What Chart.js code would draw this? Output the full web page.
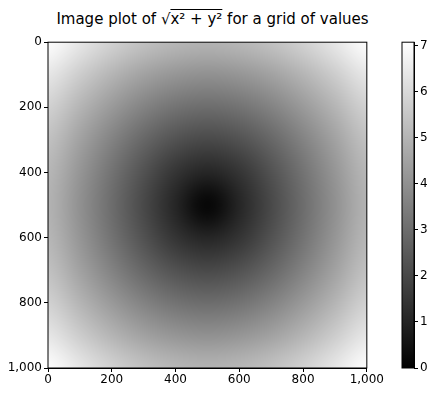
<!DOCTYPE html>
<html>
<head>
<meta charset="utf-8">
<script src="https://cdn.jsdelivr.net/npm/chart.js@4"></script>
<style>
body { margin: 0; background: #fff; width: 442px; height: 401px; overflow: hidden; position: relative; font-family: "DejaVu Sans", sans-serif; }
#title { position: absolute; left: 0; top: 10px; width: 425px; text-align: center; font-size: 15px; color: #000; }
#main { position: absolute; left: 0; top: 33px; }
#bar { position: absolute; left: 395px; top: 33px; }
</style>
</head>
<body>
<div id="title">Image plot of √<span style="text-decoration: overline">x² + y²</span> for a grid of values</div>
<canvas id="main" width="385" height="360"></canvas>
<canvas id="bar" width="47" height="360"></canvas>
<script>
// sample positions (pixel index) of the grid rows/cols
const samplePos = [0, 100, 200, 300, 400, 500, 600, 700, 800, 900, 1000];
// values read at those positions, row by row (top row first)
const gridValues = [
	[7.07, 6.40, 5.83, 5.39, 5.10, 5.00, 5.10, 5.39, 5.83, 6.40, 7.07],
	[6.40, 5.66, 5.00, 4.47, 4.12, 4.00, 4.12, 4.47, 5.00, 5.66, 6.40],
	[5.83, 5.00, 4.24, 3.61, 3.16, 3.00, 3.16, 3.61, 4.24, 5.00, 5.83],
	[5.39, 4.47, 3.61, 2.83, 2.24, 2.00, 2.24, 2.83, 3.61, 4.47, 5.39],
	[5.10, 4.12, 3.16, 2.24, 1.41, 1.00, 1.41, 2.24, 3.16, 4.12, 5.10],
	[5.00, 4.00, 3.00, 2.00, 1.00, 0.00, 1.00, 2.00, 3.00, 4.00, 5.00],
	[5.10, 4.12, 3.16, 2.24, 1.41, 1.00, 1.41, 2.24, 3.16, 4.12, 5.10],
	[5.39, 4.47, 3.61, 2.83, 2.24, 2.00, 2.24, 2.83, 3.61, 4.47, 5.39],
	[5.83, 5.00, 4.24, 3.61, 3.16, 3.00, 3.16, 3.61, 4.24, 5.00, 5.83],
	[6.40, 5.66, 5.00, 4.47, 4.12, 4.00, 4.12, 4.47, 5.00, 5.66, 6.40],
	[7.07, 6.40, 5.83, 5.39, 5.10, 5.00, 5.10, 5.39, 5.83, 6.40, 7.07]
];
const axisTicks = [0, 200, 400, 600, 800, 1000];
const colorTicks = [0, 1, 2, 3, 4, 5, 6, 7];
const vmin = 0, vmax = 7.07;

Chart.defaults.font.family = '"DejaVu Sans", sans-serif';
Chart.defaults.font.size = 12;
Chart.defaults.color = '#000';
Chart.defaults.animation = false;

function gray(v) {
	const g = Math.round(255 * (v - vmin) / (vmax - vmin));
	return [g, g, g];
}

// small image of the sampled grid, scaled up by the browser
const img = document.createElement('canvas');
img.width = samplePos.length;
img.height = samplePos.length;
const ictx = img.getContext('2d');
const idata = ictx.createImageData(img.width, img.height);
gridValues.forEach((row, r) => {
	row.forEach((v, c) => {
		const [g] = gray(v);
		const i = (r * img.width + c) * 4;
		idata.data[i] = g; idata.data[i + 1] = g; idata.data[i + 2] = g; idata.data[i + 3] = 255;
	});
});
ictx.putImageData(idata, 0, 0);

const heatPlugin = {
	id: 'heat',
	beforeDatasetsDraw(chart) {
		const { ctx, chartArea, scales } = chart;
		const half = (samplePos[1] - samplePos[0]) / 2;
		const x0 = scales.x.getPixelForValue(samplePos[0] - half);
		const x1 = scales.x.getPixelForValue(samplePos[samplePos.length - 1] + half);
		const y0 = scales.y.getPixelForValue(samplePos[0] - half);
		const y1 = scales.y.getPixelForValue(samplePos[samplePos.length - 1] + half);
		ctx.save();
		ctx.beginPath();
		ctx.rect(chartArea.left, chartArea.top, chartArea.right - chartArea.left, chartArea.bottom - chartArea.top);
		ctx.clip();
		ctx.imageSmoothingEnabled = true;
		ctx.imageSmoothingQuality = 'high';
		ctx.drawImage(img, x0, y0, x1 - x0, y1 - y0);
		ctx.restore();
	}
};

function fixTicks(values) {
	return scale => { scale.ticks = values.map(v => ({ value: v })); };
}

const tickGrid = { display: true, drawOnChartArea: false, tickLength: 4, color: '#000' };

new Chart(document.getElementById('main'), {
	type: 'scatter',
	data: { datasets: [{ data: [] }] },
	options: {
		responsive: false,
		layout: { padding: { top: 7, right: 8 } },
		plugins: { legend: { display: false }, tooltip: { enabled: false } },
		scales: {
			x: {
				min: 0, max: 1000,
				afterBuildTicks: fixTicks(axisTicks),
				afterFit: s => { s.height = 25; },
				grid: tickGrid,
				border: { color: '#000' },
				ticks: { padding: 1, maxRotation: 0 }
			},
			y: {
				min: 0, max: 1000, reverse: true,
				afterBuildTicks: fixTicks(axisTicks),
				afterFit: s => { s.width = 48; },
				grid: tickGrid,
				border: { color: '#000' },
				ticks: { padding: 2 }
			}
		}
	},
	plugins: [heatPlugin, {
		id: 'frame',
		afterDraw(chart) {
			const { ctx, chartArea: a } = chart;
			ctx.save();
			ctx.strokeStyle = '#000';
			ctx.lineWidth = 1;
			ctx.strokeRect(a.left, a.top, a.right - a.left, a.bottom - a.top);
			ctx.restore();
		}
	}]
});

new Chart(document.getElementById('bar'), {
	type: 'scatter',
	data: { datasets: [{ data: [] }] },
	options: {
		responsive: false,
		layout: { padding: { top: 7, left: 7, bottom: 25 } },
		plugins: { legend: { display: false }, tooltip: { enabled: false } },
		scales: {
			x: { display: false, min: 0, max: 1 },
			y: {
				position: 'right',
				min: vmin, max: vmax,
				afterBuildTicks: fixTicks(colorTicks),
				afterFit: s => { s.width = 28; },
				grid: tickGrid,
				border: { color: '#000' },
				ticks: { padding: 2 }
			}
		}
	},
	plugins: [{
		id: 'colorbar',
		beforeDatasetsDraw(chart) {
			const { ctx, chartArea: a, scales } = chart;
			const g = ctx.createLinearGradient(0, scales.y.getPixelForValue(vmin), 0, scales.y.getPixelForValue(vmax));
			g.addColorStop(0, 'rgb(' + gray(vmin).join(',') + ')');
			g.addColorStop(1, 'rgb(' + gray(vmax).join(',') + ')');
			ctx.save();
			ctx.fillStyle = g;
			ctx.fillRect(a.left, a.top, a.right - a.left, a.bottom - a.top);
			ctx.strokeStyle = '#000';
			ctx.strokeRect(a.left, a.top, a.right - a.left, a.bottom - a.top);
			ctx.restore();
		}
	}]
});
</script>
</body>
</html>
